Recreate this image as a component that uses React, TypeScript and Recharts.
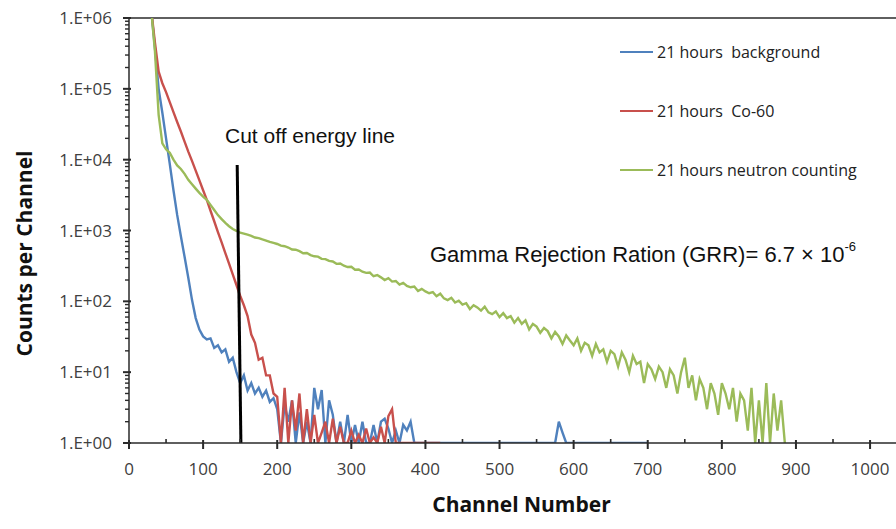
import { LineChart, Line, XAxis, YAxis, ReferenceLine, Legend } from 'recharts';

// spectrum binned every 5 channels, starting at channel 30
const CH_START = 30;
const CH_STEP = 5;

const background = [
  1300000, 380000, 100000, 46000, 20000, 8700, 3700, 1660, 830, 425, 215, 105,
  58, 40, 32, 29, 30, 22, 24, 19, 21, 14, 16, 10, 7, 9, 5.5, 7, 5, 6, 4.5, 5.5,
  3.8, 4.3, 3, 1, 3.5, 2, 4, 1, 2.7, 1, 2, 1, 6, 3, 5.6, 1, 4, 2.5, 1, 2, 1, 2.5,
  1, 1.8, 1, 2, 1, 1, 1.8, 1, 2, 2.2, 1.6, 1, 1.5, 1, 1.8, 1.5, 2, 1,
  1, 1, 1, 1, 1, 1, 1, 1, 1, 1, 1, 1, 1, 1, 1, 1, 1, 1, 1, 1, 1, 1, 1, 1, 1, 1,
  1, 1, 1, 1, 1, 1, 1, 1, 1, 1, 1,
  1, 2, 1.4, 1,
  1, 1, 1, 1, 1, 1, 1, 1, 1, 1, 1, 1, 1, 1, 1, 1, 1, 1, 1, 1, 1, 1,
];

const co60 = [
  1300000, 450000, 175000, 120000, 90000, 65000, 47000, 34000, 25000, 18000,
  13000, 9600, 7000, 5100, 3700, 2700, 1900, 1350, 950, 680, 480, 340, 240, 170,
  120, 88, 62, 34, 26, 15, 16, 9, 9, 5, 4.5, 1, 6, 1, 4, 1.5, 5, 1, 3, 1, 2.5, 1,
  1.4, 2, 1, 2.2, 1, 1.7, 1, 1, 1.5, 1, 1.3, 1, 1.6, 1, 1.2, 1, 1.7, 1, 2.4, 3, 1,
  1, 1, 1, 1, 1, 1, 1, 1, 1, 1, 1, 1,
];

const neutron = [
  1300000, 340000, 43000, 17000, 14000, 12500, 10000, 8300, 7400, 6300, 5200,
  4500, 3900, 3400, 3000, 2700, 2300, 1950, 1650, 1450, 1280, 1150, 1050, 990,
  930, 905, 872, 840, 795, 780, 748, 722, 690, 668,
  645, 610, 600, 575, 540, 535, 512, 478, 482, 450,
  432, 428, 398, 395, 372, 365, 338, 342, 318, 305,
  308, 280, 282, 262, 252, 255, 226, 235, 218, 200,
  212, 190, 194, 172, 182, 165, 158, 162, 140, 150,
  138, 130, 135, 118, 128, 110, 104, 112, 96, 102,
  90, 94, 78, 88, 82, 74, 84, 70, 66, 72,
  60, 68, 58, 62, 50, 58, 48, 54, 40, 48,
  44, 36, 42, 38, 30, 37, 32, 25, 33, 28,
  24, 30, 20, 26, 24, 17, 25, 19, 21, 14,
  20, 18, 12, 19, 15, 10, 17, 13, 14, 7,
  13, 11, 8, 12, 10, 6, 11, 9, 5, 10,
  16, 6, 9, 4, 8, 6, 3, 7, 5, 2.5,
  7, 5, 3, 6, 2, 5, 4, 1.5, 6, 1,
  4, 1, 7, 1, 5, 1.5, 4, 1,
];

const seriesNames = ['21 hours  background', '21 hours  Co-60', '21 hours neutron counting'];
const seriesColors = ['#4f81bd', '#c8504c', '#9bbb59'];

const xTicks = [0, 100, 200, 300, 400, 500, 600, 700, 800, 900, 1000];
const xMinorTicks = [50, 150, 250, 350, 450, 550, 650, 750, 850, 950];
const yTicks = [1, 10, 100, 1000, 10000, 100000, 1000000];
const yTickLabels = ['1.E+00', '1.E+01', '1.E+02', '1.E+03', '1.E+04', '1.E+05', '1.E+06'];
const yMinorTicks: number[] = [];
for (let d = 0; d < 6; d++) for (let m = 2; m < 10; m++) yMinorTicks.push(m * 10 ** d);

// hand drawn cut-off marker (channel, counts)
const cutoffLine = [
  { x: 146, y: 8400 },
  { x: 151, y: 1 },
];

const data = neutron.map((v, i) => ({
  channel: CH_START + i * CH_STEP,
  background: background[i] ?? null,
  co60: co60[i] ?? null,
  neutron: v,
}));

const TICK = 6;
const MINOR = 4;
const X_GAP = 14;
const Y_GAP = 11;
const AXIS = '#2a2a2a';
const font = '"Open Sans", sans-serif';

// tick marks cross the axis for major ticks, minor ones sit on one side
function XTick({ x, y, payload }: any) {
  const v = payload.value;
  const axisY = y - TICK - X_GAP;
  if (!xTicks.includes(v)) {
    return <line x1={x} x2={x} y1={axisY} y2={axisY - MINOR} stroke={AXIS} strokeWidth={1.6} />;
  }
  return (
    <g>
      <line x1={x} x2={x} y1={axisY - 3} y2={axisY + TICK} stroke={AXIS} strokeWidth={2} />
      <text x={x} y={y} dy='0.71em' textAnchor='middle' fill='#404040' fontSize={17} fontFamily={font}>
        {v}
      </text>
    </g>
  );
}

function YTick({ x, y, payload }: any) {
  const v = payload.value;
  const axisX = x + TICK + Y_GAP;
  const i = yTicks.indexOf(v);
  if (i < 0) {
    return <line x1={axisX - MINOR} x2={axisX} y1={y} y2={y} stroke={AXIS} strokeWidth={1.4} />;
  }
  return (
    <g>
      <line x1={axisX - TICK} x2={axisX + 2} y1={y} y2={y} stroke={AXIS} strokeWidth={2} />
      <text x={x} y={y} dy='0.355em' textAnchor='end' fill='#404040' fontSize={17} fontFamily={font}>
        {yTickLabels[i]}
      </text>
    </g>
  );
}

const titleFont = { fill: '#111', fontSize: 21, fontWeight: 700, fontFamily: font };

function LegendBox({ payload }: any) {
  const items = [...(payload || [])].sort(
    (a: any, b: any) => seriesNames.indexOf(a.value) - seriesNames.indexOf(b.value)
  );
  return (
    <div style={{ fontFamily: font, fontSize: 16, color: '#222' }}>
      {items.map((p: any) => (
        <div key={p.value} style={{ display: 'flex', alignItems: 'center', height: 59, whiteSpace: 'pre' }}>
          <span style={{ display: 'inline-block', width: 33, height: 2, background: p.color, marginRight: 4 }} />
          {p.value}
        </div>
      ))}
    </div>
  );
}

export default function App() {
  return (
    <div style={{ position: 'absolute', left: 0, top: 0, width: 896, height: 529, background: '#fff' }}>
      <LineChart width={896} height={529} data={data} margin={{ top: 18, right: 0, bottom: 0, left: 0 }}>
        <XAxis
          dataKey='channel'
          type='number'
          domain={[0, 1035]}
          allowDataOverflow
          ticks={[...xTicks, ...xMinorTicks].sort((a, b) => a - b)}
          interval={0}
          height={86}
          tickSize={TICK}
          tickMargin={X_GAP}
          tick={<XTick />}
          tickLine={false}
          axisLine={{ stroke: AXIS, strokeWidth: 1.5 }}
          label={{ value: 'Channel Number', position: 'center', dx: 9, dy: 19, style: titleFont }}
        />
        <YAxis
          type='number'
          scale='log'
          domain={[1, 1000000]}
          allowDataOverflow
          ticks={[...yTicks, ...yMinorTicks].sort((a, b) => a - b)}
          interval={0}
          width={129}
          tickSize={TICK}
          tickMargin={Y_GAP}
          tick={<YTick />}
          tickLine={false}
          axisLine={{ stroke: AXIS, strokeWidth: 1.5 }}
          label={{ value: 'Counts per Channel', angle: -90, position: 'center', dx: -40, dy: 23, style: titleFont }}
        />
        <ReferenceLine y={1000000} stroke={AXIS} strokeWidth={1.5} ifOverflow='visible' />
        <Line dataKey='background' name={seriesNames[0]} stroke={seriesColors[0]} strokeWidth={2.4} dot={false} isAnimationActive={false} />
        <Line dataKey='co60' name={seriesNames[1]} stroke={seriesColors[1]} strokeWidth={2.4} dot={false} isAnimationActive={false} />
        <Line dataKey='neutron' name={seriesNames[2]} stroke={seriesColors[2]} strokeWidth={2.4} dot={false} isAnimationActive={false} />
        <ReferenceLine segment={cutoffLine} stroke='#000' strokeWidth={3} ifOverflow='visible' />
        <Legend
          layout='vertical'
          align='center'
          verticalAlign='middle'
          content={<LegendBox />}
          wrapperStyle={{ left: 620, top: 22, width: 270 }}
        />
      </LineChart>
      <div
        style={{
          position: 'absolute', left: 225, top: 125, fontFamily: '"Liberation Sans", Arial, sans-serif',
          fontSize: 21, lineHeight: 1, color: '#111', whiteSpace: 'nowrap',
        }}
      >
        Cut off energy line
      </div>
      <div
        style={{
          position: 'absolute', left: 430, top: 244, fontFamily: '"Liberation Sans", Arial, sans-serif',
          fontSize: 22, lineHeight: 1, color: '#111', whiteSpace: 'nowrap',
        }}
      >
        Gamma Rejection Ration (GRR)= 6.7 × 10<sup style={{ fontSize: 13, verticalAlign: 'top', position: 'relative', top: -4 }}>-6</sup>
      </div>
    </div>
  );
}
